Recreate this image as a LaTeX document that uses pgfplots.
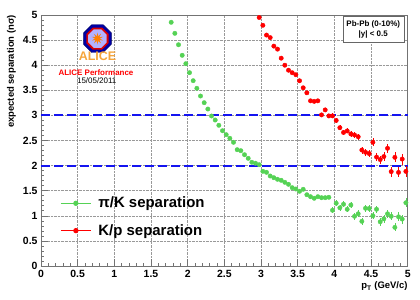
\documentclass[border=0pt]{standalone}
\usepackage{fontspec}
\setmainfont{Liberation Sans}
\usepackage{pgfplots}
\usepackage{pgfplotstable}
\pgfplotsset{compat=1.18}
\usetikzlibrary{shapes.geometric}
\definecolor{pkgreen}{RGB}{85,210,85}
\definecolor{kpred}{RGB}{255,0,0}
\definecolor{dblue}{RGB}{20,20,240}
\definecolor{aliceorange}{RGB}{245,165,60}

\pgfplotstableread{
x y e
1.775 4.855 0.02
1.825 4.635 0.02
1.875 4.408 0.02
1.925 4.197 0.02
1.975 4.030 0.02
2.025 3.851 0.02
2.075 3.691 0.02
2.125 3.540 0.02
2.175 3.386 0.02
2.225 3.253 0.02
2.275 3.127 0.02
2.325 2.988 0.02
2.375 2.908 0.02
2.425 2.803 0.02
2.475 2.695 0.02
2.525 2.616 0.02
2.575 2.544 0.02
2.625 2.464 0.02
2.675 2.317 0.02
2.725 2.297 0.02
2.775 2.217 0.02
2.825 2.145 0.02
2.875 2.066 0.02
2.925 2.046 0.02
2.975 2.018 0.02
3.025 1.886 0.02
3.075 1.866 0.02
3.125 1.793 0.02
3.175 1.759 0.02
3.225 1.727 0.02
3.275 1.707 0.02
3.325 1.667 0.02
3.375 1.627 0.02
3.425 1.560 0.02
3.475 1.534 0.02
3.525 1.488 0.02
3.575 1.528 0.02
3.625 1.420 0.02
3.675 1.381 0.02
3.725 1.349 0.02
3.775 1.381 0.02
3.825 1.361 0.02
3.875 1.361 0.02
3.925 1.369 0.02
3.975 1.11 0.06
4.025 1.25 0.06
4.075 1.16 0.06
4.125 1.23 0.06
4.175 1.13 0.06
4.225 1.215 0.06
4.275 0.99 0.07
4.325 1.04 0.07
4.375 0.89 0.07
4.425 1.15 0.07
4.475 1.145 0.07
4.525 1.00 0.07
4.575 1.13 0.07
4.625 0.88 0.08
4.675 0.94 0.08
4.725 1.04 0.08
4.775 0.99 0.08
4.825 0.77 0.08
4.875 0.98 0.09
4.925 0.935 0.09
4.975 1.26 0.09
}\piK

\pgfplotstableread{
x y e
2.975 4.95 0.03
3.025 4.795 0.03
3.075 4.60 0.03
3.125 4.55 0.03
3.175 4.38 0.03
3.225 4.32 0.03
3.275 4.14 0.03
3.325 4.00 0.03
3.375 3.90 0.03
3.425 3.85 0.03
3.475 3.81 0.03
3.525 3.69 0.03
3.575 3.55 0.03
3.625 3.45 0.03
3.675 3.29 0.03
3.725 3.28 0.03
3.775 3.29 0.03
3.825 3.01 0.04
3.875 3.11 0.04
3.925 2.99 0.04
3.975 2.99 0.05
4.025 2.90 0.05
4.075 2.755 0.05
4.125 2.66 0.05
4.175 2.69 0.05
4.225 2.63 0.06
4.275 2.61 0.06
4.325 2.575 0.06
4.375 2.31 0.07
4.425 2.265 0.07
4.475 2.24 0.07
4.525 2.465 0.08
4.575 2.17 0.08
4.625 2.12 0.08
4.675 2.18 0.09
4.725 2.345 0.09
4.775 1.88 0.10
4.825 2.165 0.10
4.875 1.865 0.10
4.925 2.13 0.11
4.975 1.885 0.11
}\Kp

\begin{document}
\begin{tikzpicture}
\path[use as bounding box] (-41bp,-34bp) rectangle (379bp,266bp);
\begin{axis}[
  at={(0,0)}, anchor=south west,
  scale only axis, width=366.7bp, height=251bp,
  xmin=0, xmax=5, ymin=0, ymax=5,
  xtick={0,0.5,1,1.5,2,2.5,3,3.5,4,4.5,5},
  ytick={0,0.5,1,1.5,2,2.5,3,3.5,4,4.5,5},
  minor x tick num=4, minor y tick num=4,
  xtick pos=bottom, ytick pos=left,
  tick align=inside,
  major tick length=7bp, minor tick length=3.5bp,
  axis line style={black!55, line width=0.7pt},
  every tick/.style={black!55, line width=0.6pt},
  grid=major,
  major grid style={densely dotted, black!40, line width=0.5pt},
  /pgf/number format/assume math mode=true,
  ticklabel style={font=\fontsize{10.5}{12}\selectfont\bfseries},
  xticklabel style={yshift=-1bp},
  xlabel={p\textsubscript{T} (GeV/c)},
  ylabel={expected separation (nσ)},
  xlabel style={at={(axis description cs:1,-0.062)}, anchor=north east, font=\fontsize{9.5}{11}\selectfont\bfseries, inner sep=0pt},
  ylabel style={at={(axis description cs:-0.068,1)}, anchor=south east, font=\fontsize{9.5}{11}\selectfont\bfseries, inner sep=0pt},
  clip=false,
  legend style={at={(axis description cs:0.052,0.283)}, anchor=north west, draw=none, fill=none, inner sep=0pt,
    font=\fontsize{15}{18}\selectfont\bfseries, row sep=11bp},
  legend cell align=left,
  legend image code/.code={\draw[mark repeat=2,mark phase=2,#1] plot coordinates {(0bp,0bp) (15bp,0bp) (30bp,0bp)}; \path (35bp,0bp);},
]
\addplot[draw=dblue, color=dblue, line width=2pt, dash pattern=on 9bp off 4bp, forget plot] coordinates {(0,3) (5,3)};
\addplot[draw=dblue, color=dblue, line width=2pt, dash pattern=on 9bp off 4bp, forget plot] coordinates {(0,2) (5,2)};

\addplot[only marks, mark=*, mark size=2.2bp, color=pkgreen, mark options={draw=pkgreen, fill=pkgreen}, forget plot,
  error bars/.cd, y dir=both, y explicit, error mark=none,
  error bar style={line width=0.7pt, pkgreen}]
  table[x=x, y=y, y error=e] {\piK};
\addplot[only marks, mark=*, mark size=2.2bp, color=kpred, mark options={draw=kpred, fill=kpred}, forget plot,
  error bars/.cd, y dir=both, y explicit, error mark=none,
  error bar style={line width=0.7pt, kpred}]
  table[x=x, y=y, y error=e] {\Kp};

\addlegendimage{color=pkgreen, mark=*, mark size=2bp, line width=1.2pt, mark options={fill=pkgreen}}
\addlegendentry{π/K separation}
\addlegendimage{color=kpred, mark=*, mark size=2bp, line width=1.2pt, mark options={fill=kpred}}
\addlegendentry{K/p separation}

% ALICE logo
\node[regular polygon, regular polygon sides=8, minimum size=30bp, inner sep=0pt, fill=blue!65!black, draw=blue!40!black] at (axis cs:0.77,4.53) {};
\node[regular polygon, regular polygon sides=8, minimum size=24bp, inner sep=0pt, fill=red!85!black] at (axis cs:0.77,4.53) {};
\node[regular polygon, regular polygon sides=8, minimum size=20bp, inner sep=0pt, fill=blue!30!white] at (axis cs:0.77,4.53) {};
\node[star, star points=10, star point ratio=2.5, minimum size=12bp, inner sep=0pt, fill=orange] at (axis cs:0.77,4.53) {};
\node[font=\fontsize{12.5}{14}\selectfont\bfseries, text=aliceorange] at (axis cs:0.77,4.17) {ALICE};
\node[font=\fontsize{8}{9}\selectfont\bfseries, text=red] at (axis cs:0.75,3.86) {ALICE Performance};
\node[font=\fontsize{8}{9}\selectfont] at (axis cs:0.76,3.69) {15/05/2011};

% info box
\node[draw=black!60, fill=white, align=center, font=\fontsize{8}{10}\selectfont\bfseries, inner xsep=3bp, inner ysep=2.5bp, minimum width=61bp, minimum height=26bp] at (axis cs:4.53,4.72) {Pb-Pb (0-10\%)\\|y| < 0.5};
\end{axis}
\end{tikzpicture}
\end{document}
